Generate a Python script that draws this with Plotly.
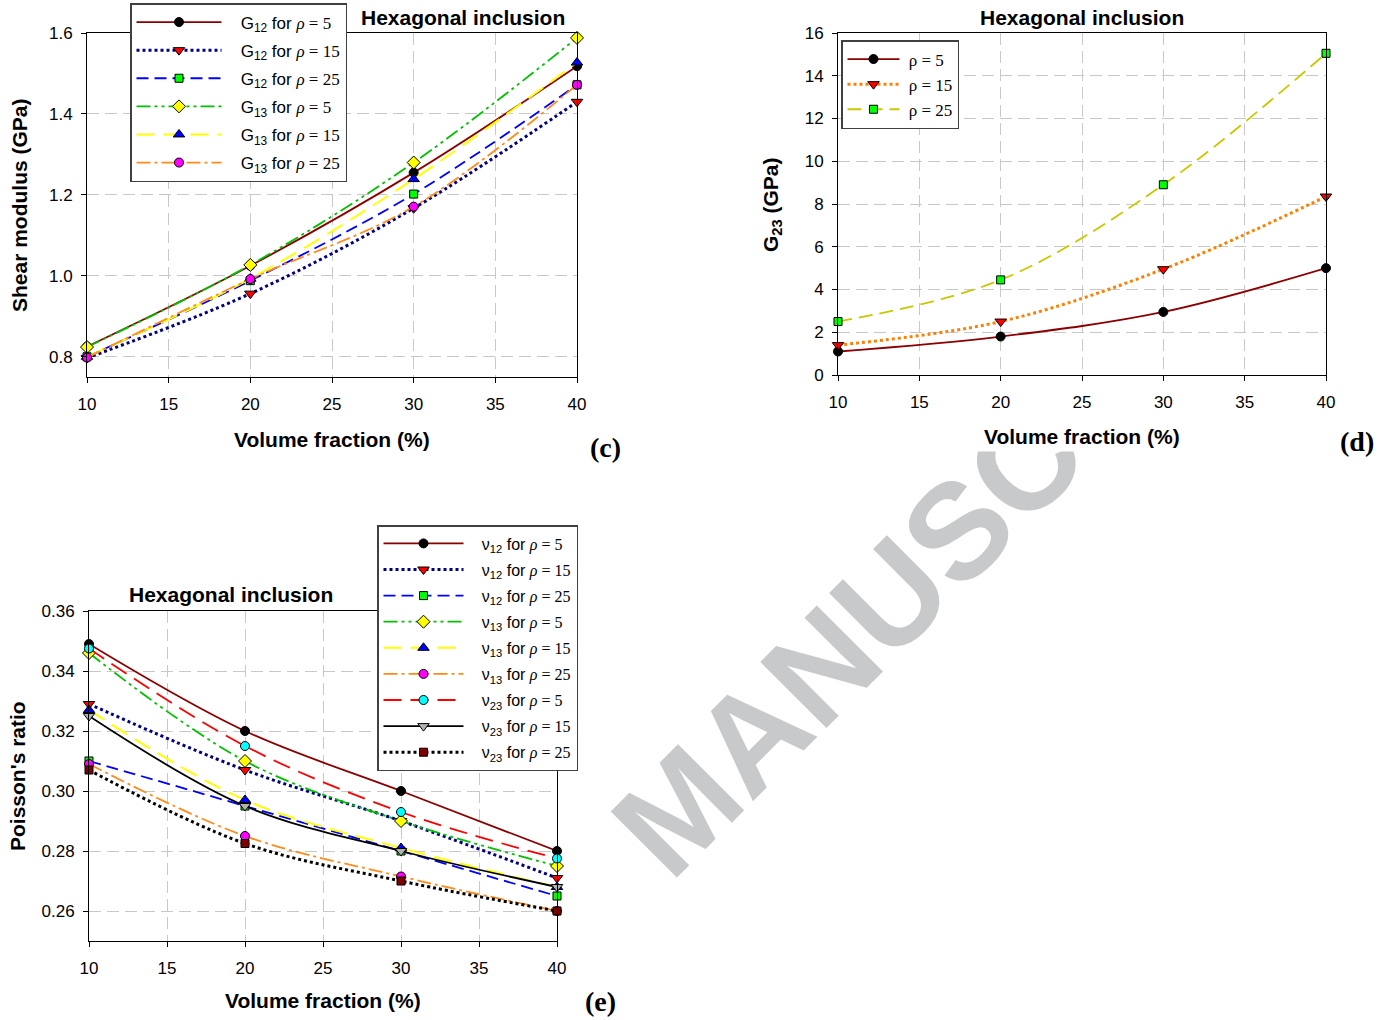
import plotly.graph_objects as go

W, H = 1392, 1020

# ---------------- data ----------------
vol_frac = [10, 20, 30, 40]
x_ticks = [10, 15, 20, 25, 30, 35, 40]

# (c) shear modulus (GPa)
G12_r5 = [0.825, 1.025, 1.255, 1.518]
G12_r15 = [0.797, 0.956, 1.167, 1.430]
G12_r25 = [0.800, 0.988, 1.202, 1.472]
G13_r5 = [0.824, 1.027, 1.280, 1.588]
G13_r15 = [0.800, 0.993, 1.239, 1.527]
G13_r25 = [0.798, 0.992, 1.171, 1.472]
c_yticks = [0.8, 1.0, 1.2, 1.4, 1.6]

# (d) G23 (GPa)
G23_r5 = [1.10, 1.80, 2.95, 5.00]
G23_r15 = [1.40, 2.50, 4.95, 8.35]
G23_r25 = [2.50, 4.45, 8.90, 15.05]
d_yticks = [0, 2, 4, 6, 8, 10, 12, 14, 16]

# (e) Poisson's ratio
nu12_r5 = [0.3490, 0.3200, 0.3000, 0.2800]
nu12_r15 = [0.3290, 0.3070, 0.2900, 0.2710]
nu12_r25 = [0.3100, 0.2950, 0.2800, 0.2650]
nu13_r5 = [0.3460, 0.3100, 0.2900, 0.2750]
nu13_r15 = [0.3270, 0.2970, 0.2810, 0.2680]
nu13_r25 = [0.3090, 0.2850, 0.2715, 0.2600]
nu23_r5 = [0.3475, 0.3150, 0.2930, 0.2775]
nu23_r15 = [0.3250, 0.2950, 0.2800, 0.2680]
nu23_r25 = [0.3070, 0.2825, 0.2700, 0.2600]
e_yticks = [0.26, 0.28, 0.30, 0.32, 0.34, 0.36]

# ---------------- helpers ----------------
SANS = "Liberation Sans, Arial, sans-serif"
SERIF = "Liberation Serif"
PAD = "\u00a0\u00a0\u00a0"


def px(x):
    return x / W


def py(y):
    return 1 - y / H


def lab(sym, sub, rho):
    return (f"{PAD}{sym}<sub>{sub}</sub> for "
            f"<span style='font-family:{SERIF};font-style:italic'>ρ</span>"
            f"<span style='font-family:{SERIF}'> = {rho}</span>")


def rlab(rho):
    return f"<span style='font-family:{SERIF}'>\u00a0ρ = {rho}</span>"


fig = go.Figure()


def add(y, name, lcolor, dash, lw, sym, mcolor, xa, ya, legend, msize=9):
    fig.add_trace(go.Scatter(
        x=vol_frac, y=y, name=name, mode="lines+markers",
        line=dict(color=lcolor, dash=dash, width=lw, shape="spline", smoothing=1),
        marker=dict(symbol=sym, color=mcolor, size=msize,
                    line=dict(color="black", width=1)),
        xaxis=xa, yaxis=ya, legend=legend, legendgroup=name + legend,
        cliponaxis=False, showlegend=True))


DOT = "3px,3px"
DASH = "12px,6px"
DDD = "14px,4px,3px,4px,3px,4px"
LONG = "18px,9px"
DASHDOT = "14px,4px,3px,4px"

# (c)
add(G12_r5, lab("G", "12", 5), "#8b0000", "solid", 1.8, "circle", "black", "x", "y", "legend")
add(G12_r15, lab("G", "12", 15), "#000080", DOT, 3, "triangle-down", "#ff0000", "x", "y", "legend", 10)
add(G12_r25, lab("G", "12", 25), "#0000ff", DASH, 1.8, "square", "#00ff00", "x", "y", "legend", 8)
add(G13_r5, lab("G", "13", 5), "#00c000", DDD, 1.8, "diamond", "#ffff00", "x", "y", "legend", 10)
add(G13_r15, lab("G", "13", 15), "#ffff00", LONG, 2, "triangle-up", "#0000ff", "x", "y", "legend", 10)
add(G13_r25, lab("G", "13", 25), "#ff8c1a", DASHDOT, 1.8, "circle", "#ff00ff", "x", "y", "legend")

# (d)
add(G23_r5, rlab(5), "#8b0000", "solid", 1.8, "circle", "black", "x2", "y2", "legend2")
add(G23_r15, rlab(15), "#ff8000", DOT, 3, "triangle-down", "#ff0000", "x2", "y2", "legend2", 10)
add(G23_r25, rlab(25), "#c8c800", "14px,7px", 1.8, "square", "#00ff00", "x2", "y2", "legend2", 8)

# (e)
add(nu12_r5, lab("ν", "12", 5), "#8b0000", "solid", 1.8, "circle", "black", "x3", "y3", "legend3")
add(nu12_r15, lab("ν", "12", 15), "#000080", DOT, 3, "triangle-down", "#ff0000", "x3", "y3", "legend3", 10)
add(nu12_r25, lab("ν", "12", 25), "#0000ff", DASH, 1.8, "square", "#00ff00", "x3", "y3", "legend3", 8)
add(nu13_r5, lab("ν", "13", 5), "#00c000", DDD, 1.8, "diamond", "#ffff00", "x3", "y3", "legend3", 10)
add(nu13_r15, lab("ν", "13", 15), "#ffff00", LONG, 2, "triangle-up", "#0000ff", "x3", "y3", "legend3", 10)
add(nu13_r25, lab("ν", "13", 25), "#ff8c1a", DASHDOT, 1.8, "circle", "#ff00ff", "x3", "y3", "legend3")
add(nu23_r5, lab("ν", "23", 5), "#ff0000", LONG, 1.8, "circle", "#00ffff", "x3", "y3", "legend3")
add(nu23_r15, lab("ν", "23", 15), "black", "solid", 1.8, "triangle-down", "#b0b0b0", "x3", "y3", "legend3", 10)
add(nu23_r25, lab("ν", "23", 25), "black", DOT, 3, "square", "#800000", "x3", "y3", "legend3", 8)


def xax(dom, anchor):
    return dict(domain=dom, anchor=anchor, range=[10, 40], tickvals=x_ticks,
                showline=True, linecolor="black", linewidth=1, mirror=True,
                ticks="outside", ticklen=5, tickcolor="black",
                showgrid=True, gridcolor="#c8c8c8", gridwidth=1, griddash="12px,6px",
                zeroline=False, tickfont=dict(family=SANS, size=17, color="black"),
                ticklabelstandoff=7, automargin=False)


def yax(dom, anchor, rng, tv, fmt):
    return dict(domain=dom, anchor=anchor, range=rng, tickvals=tv, tickformat=fmt,
                showline=True, linecolor="black", linewidth=1, mirror=True,
                ticks="outside", ticklen=5, tickcolor="black",
                showgrid=True, gridcolor="#c8c8c8", gridwidth=1, griddash="12px,6px",
                zeroline=False, tickfont=dict(family=SANS, size=17, color="black"),
                ticklabelstandoff=5, automargin=False)


def leg(x, y, size, iw, gap):
    return dict(x=px(x), y=py(y), xanchor="left", yanchor="top",
                bordercolor="#404040", borderwidth=1.5, bgcolor="white",
                font=dict(family=SANS, size=size, color="black"),
                itemwidth=iw, tracegroupgap=gap, traceorder="grouped")


annotations = []


def ann(text, x, y, size, family=SANS, angle=0, color="black"):
    annotations.append(dict(text=text, x=px(x), y=py(y), xref="paper", yref="paper",
                            showarrow=False, xanchor="center", yanchor="middle",
                            textangle=angle,
                            font=dict(family=family, size=size, color=color)))


# watermark
ann("<b>MANUSC</b>", 848, 640, 136, angle=-45, color="#c8c9ca")
# white area of panel (d) that hides part of the watermark
annotations.append(dict(text=" ", x=px(980), y=py(431), xref="paper", yref="paper",
                        showarrow=False, width=440, height=40, bgcolor="white",
                        borderpad=0, xanchor="center", yanchor="middle"))

# titles and labels
ann("<b>Hexagonal inclusion</b>", 463, 17, 21)
ann("<b>Hexagonal inclusion</b>", 1082, 17, 21)
ann("<b>Hexagonal inclusion</b>", 231, 594, 21)
ann("<b>Volume fraction (%)</b>", 332, 439, 21)
ann("<b>Volume fraction (%)</b>", 1082, 436, 21)
ann("<b>Volume fraction (%)</b>", 323, 1000, 21)
ann("<b>Shear modulus (GPa)</b>", 20, 205, 21, angle=-90)
ann("<b>G<sub>23</sub> (GPa)</b>", 772, 205, 21, angle=-90)
ann("<b>Poisson's ratio</b>", 17, 776, 21, angle=-90)
ann("<b>(c)</b>", 605, 447, 28, family=SERIF)
ann("<b>(d)</b>", 1357, 441, 28, family=SERIF)
ann("<b>(e)</b>", 600, 1001, 28, family=SERIF)

fig.update_layout(
    width=W, height=H, margin=dict(l=0, r=0, t=0, b=0, autoexpand=False),
    paper_bgcolor="white", plot_bgcolor="white",
    xaxis=xax([px(87), px(577)], "y"),
    yaxis=yax([py(377), py(33)], "x", [0.75, 1.6], c_yticks, ".1f"),
    xaxis2=xax([px(838), px(1326)], "y2"),
    yaxis2=yax([py(375), py(33)], "x2", [0, 16], d_yticks, "d"),
    xaxis3=xax([px(89), px(557)], "y3"),
    yaxis3=yax([py(941), py(611)], "x3", [0.25, 0.36], e_yticks, ".2f"),
    legend=leg(130, 3, 17, 85, 3),
    legend2=leg(841, 40, 17, 52, 0),
    legend3=leg(377, 525, 16, 80, 2.3),
    annotations=annotations,
    showlegend=True,
)

fig.write_html("out.html", config={"displayModeBar": False},
               post_script="document.body.style.margin='0';document.body.style.overflow='hidden';")
